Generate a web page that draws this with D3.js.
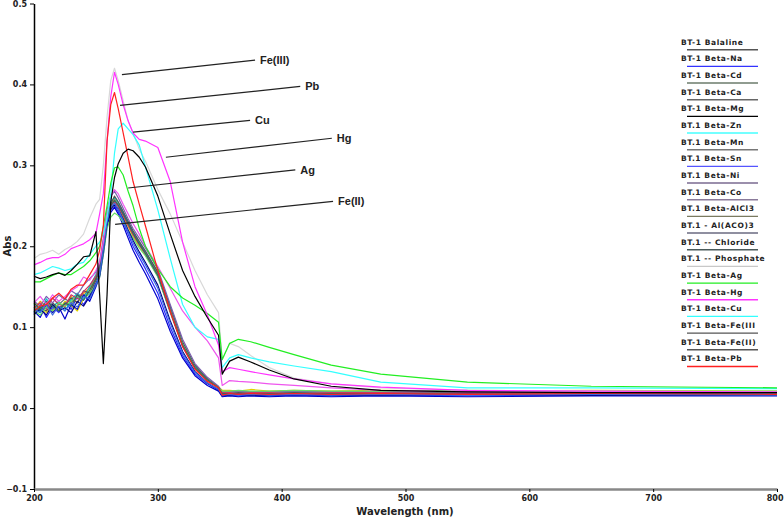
<!DOCTYPE html>
<html>
<head>
<meta charset="utf-8">
<script src="https://cdn.jsdelivr.net/npm/d3@7"></script>
<style>
  body { margin: 0; background: #fff; }
  svg { display: block; }
</style>
</head>
<body>
<svg width="784" height="519"></svg>
<script>
// Wavelength grid (nm)
const wavelengths = [200,205,210,215,220,225,230,235,240,245,250,
  253,256,259,262,265,268,272,276,280,285,290,
  300,310,320,330,340,349,
  352,358,365,375,390,410,440,480,550,650,800];

const seriesNames = ["BT-1 Balaline","BT-1 Beta-Na","BT-1 Beta-Cd","BT-1 Beta-Ca","BT-1 Beta-Mg",
  "BT.1 Beta-Zn","BT.1 Beta-Mn","BT.1 Beta-Sn","BT.1 Beta-Ni","BT.1 Beta-Co",
  "BT.1 Beta-AlCl3","BT.1 - Al(ACO)3","BT.1 -- Chloride","BT.1 -- Phosphate","BT-1 Beta-Ag",
  "BT-1 Beta-Hg","BT-1 Beta-Cu","BT-1 Beta-Fe(III","BT-1 Beta-Fe(II)","BT-1 Beta-Pb"];

// colour of each curve in the plot
const lineColors = ["#6e6e6e","#2a2aff","#e0d000","#ff9a00","#000000",
  "#00c8c8","#555555","#0000cc","#7a5fb0","#cc3366",
  "#66dd66","#000080","#336666","#ee55ee","#22ee22",
  "#ff33ff","#33ffff","#d8d8d8","#3a6ae0","#ff2020"];

// colour of the small key line under each legend entry
const keyColors = ["#555555","#3333ff","#6b7b6b","#666666","#000000",
  "#44ffff","#777777","#5555ff","#7a6a90","#8a7a9a",
  "#7a7a60","#6a6a80","#4a5a5a","#c8c8c8","#22ee22",
  "#ff33ff","#33ffff","#555555","#555555","#ff2020"];

// Abs values, one array per sample
const absBalaline = [0.125,0.12,0.13,0.122,0.128,0.135,0.13,0.14,0.138,0.15,0.16,
  0.172,0.2,0.232,0.25,0.256,0.25,0.238,0.226,0.215,0.202,0.19,
  0.163,0.118,0.076,0.049,0.034,0.025,
  0.017,0.018,0.018,0.017,0.018,0.017,0.018,0.017,0.018,0.017,0.018];
const absNa = [0.118,0.128,0.112,0.125,0.118,0.13,0.122,0.138,0.128,0.14,0.155,
  0.165,0.195,0.228,0.245,0.25,0.243,0.23,0.215,0.2,0.186,0.172,
  0.142,0.1,0.065,0.042,0.03,0.022,
  0.015,0.016,0.015,0.016,0.015,0.016,0.015,0.016,0.015,0.016,0.016];
const absCd = [0.13,0.124,0.118,0.128,0.122,0.132,0.127,0.12,0.135,0.145,0.158,
  0.17,0.198,0.23,0.246,0.252,0.247,0.236,0.224,0.212,0.2,0.19,
  0.165,0.122,0.08,0.051,0.036,0.026,
  0.022,0.022,0.021,0.023,0.021,0.022,0.021,0.022,0.021,0.022,0.021];
const absCa = [0.122,0.132,0.126,0.118,0.13,0.125,0.138,0.13,0.142,0.148,0.162,
  0.174,0.202,0.236,0.252,0.258,0.252,0.24,0.228,0.216,0.204,0.192,
  0.166,0.12,0.078,0.05,0.035,0.025,
  0.02,0.021,0.02,0.019,0.02,0.021,0.02,0.019,0.02,0.019,0.02];
const absMg = [0.163,0.16,0.162,0.165,0.167,0.164,0.17,0.178,0.187,0.188,0.218,
  0.14,0.055,0.14,0.255,0.285,0.302,0.315,0.32,0.318,0.31,0.298,
  0.262,0.215,0.17,0.138,0.112,0.09,
  0.042,0.058,0.063,0.057,0.047,0.036,0.027,0.022,0.02,0.019,0.019];
const absZn = [0.128,0.118,0.135,0.125,0.132,0.12,0.134,0.142,0.135,0.15,0.165,
  0.176,0.205,0.238,0.255,0.26,0.254,0.242,0.23,0.218,0.205,0.193,
  0.168,0.124,0.08,0.052,0.036,0.026,
  0.019,0.02,0.019,0.02,0.02,0.019,0.02,0.019,0.019,0.02,0.02];
const absMn = [0.115,0.125,0.12,0.13,0.124,0.128,0.136,0.13,0.145,0.142,0.158,
  0.17,0.2,0.234,0.252,0.262,0.255,0.243,0.231,0.219,0.206,0.194,
  0.168,0.126,0.082,0.053,0.036,0.026,
  0.018,0.018,0.019,0.018,0.018,0.019,0.018,0.018,0.019,0.018,0.018];
const absSn = [0.12,0.112,0.128,0.118,0.125,0.11,0.128,0.122,0.14,0.132,0.15,
  0.162,0.19,0.225,0.242,0.248,0.24,0.226,0.21,0.195,0.18,0.166,
  0.135,0.095,0.062,0.04,0.028,0.021,
  0.014,0.015,0.014,0.015,0.014,0.015,0.014,0.015,0.014,0.015,0.015];
const absNi = [0.132,0.126,0.138,0.13,0.14,0.134,0.145,0.14,0.152,0.16,0.168,
  0.18,0.21,0.245,0.262,0.268,0.26,0.247,0.234,0.222,0.21,0.198,
  0.172,0.128,0.085,0.055,0.038,0.027,
  0.02,0.02,0.021,0.02,0.02,0.021,0.02,0.02,0.021,0.02,0.02];
const absCo = [0.124,0.13,0.122,0.136,0.128,0.126,0.14,0.135,0.144,0.152,0.163,
  0.175,0.203,0.235,0.25,0.255,0.249,0.238,0.226,0.214,0.202,0.19,
  0.164,0.12,0.078,0.05,0.035,0.025,
  0.019,0.019,0.018,0.019,0.019,0.018,0.019,0.019,0.018,0.019,0.019];
const absAlCl3 = [0.12,0.115,0.125,0.12,0.13,0.126,0.132,0.138,0.134,0.142,0.152,
  0.162,0.19,0.222,0.236,0.241,0.238,0.23,0.22,0.21,0.198,0.188,
  0.162,0.12,0.079,0.05,0.035,0.025,
  0.021,0.021,0.022,0.021,0.021,0.022,0.021,0.021,0.022,0.021,0.021];
const absAlACO3 = [0.116,0.122,0.115,0.128,0.12,0.124,0.118,0.132,0.126,0.138,0.152,
  0.164,0.194,0.228,0.246,0.252,0.246,0.234,0.22,0.207,0.193,0.18,
  0.152,0.108,0.07,0.045,0.031,0.023,
  0.016,0.016,0.017,0.016,0.016,0.017,0.016,0.016,0.017,0.016,0.016];
const absChloride = [0.13,0.122,0.132,0.126,0.12,0.13,0.126,0.14,0.133,0.146,0.16,
  0.172,0.2,0.233,0.25,0.257,0.251,0.24,0.228,0.216,0.203,0.191,
  0.164,0.12,0.078,0.05,0.035,0.025,
  0.018,0.018,0.017,0.018,0.018,0.017,0.018,0.018,0.017,0.018,0.018];
const absPhosphate = [0.13,0.138,0.128,0.14,0.132,0.138,0.145,0.15,0.162,0.158,0.17,
  0.18,0.205,0.242,0.262,0.27,0.265,0.252,0.24,0.228,0.215,0.2,
  0.175,0.148,0.12,0.1,0.083,0.062,
  0.028,0.034,0.033,0.032,0.03,0.028,0.025,0.022,0.02,0.02,0.019];
const absAg = [0.156,0.156,0.16,0.164,0.167,0.165,0.165,0.17,0.175,0.182,0.192,
  0.2,0.225,0.25,0.278,0.297,0.298,0.288,0.268,0.25,0.222,0.2,
  0.172,0.15,0.136,0.127,0.117,0.106,
  0.06,0.08,0.085,0.082,0.075,0.066,0.053,0.042,0.032,0.027,0.025];
const absHg = [0.177,0.18,0.184,0.186,0.186,0.19,0.197,0.2,0.203,0.208,0.216,
  0.24,0.265,0.33,0.385,0.415,0.4,0.375,0.355,0.34,0.332,0.33,
  0.322,0.28,0.205,0.15,0.115,0.078,
  0.045,0.05,0.048,0.045,0.041,0.036,0.03,0.026,0.022,0.021,0.02];
const absCu = [0.165,0.167,0.171,0.175,0.173,0.17,0.172,0.178,0.18,0.19,0.2,
  0.205,0.215,0.235,0.265,0.315,0.345,0.352,0.345,0.338,0.325,0.298,
  0.245,0.185,0.128,0.1,0.088,0.085,
  0.05,0.062,0.066,0.062,0.057,0.052,0.045,0.032,0.025,0.025,0.024];
const absFe3 = [0.185,0.19,0.192,0.195,0.19,0.196,0.2,0.206,0.215,0.235,0.252,
  0.258,0.3,0.36,0.405,0.42,0.405,0.38,0.355,0.34,0.32,0.305,
  0.27,0.24,0.205,0.17,0.14,0.118,
  0.06,0.08,0.076,0.065,0.05,0.037,0.03,0.025,0.022,0.021,0.02];
const absFe2 = [0.122,0.118,0.128,0.115,0.126,0.12,0.13,0.125,0.138,0.135,0.152,
  0.165,0.196,0.23,0.248,0.253,0.246,0.232,0.218,0.204,0.19,0.177,
  0.148,0.105,0.068,0.044,0.031,0.023,
  0.016,0.017,0.016,0.017,0.016,0.017,0.016,0.017,0.016,0.017,0.016];
const absPb = [0.12,0.126,0.128,0.136,0.142,0.135,0.147,0.152,0.152,0.165,0.178,
  0.195,0.225,0.33,0.375,0.39,0.37,0.34,0.31,0.28,0.252,0.225,
  0.17,0.12,0.076,0.048,0.033,0.025,
  0.016,0.018,0.017,0.018,0.017,0.018,0.017,0.018,0.017,0.018,0.017];

const seriesValues = [absBalaline, absNa, absCd, absCa, absMg, absZn, absMn, absSn, absNi, absCo,
  absAlCl3, absAlACO3, absChloride, absPhosphate, absAg, absHg, absCu, absFe3, absFe2, absPb];

// Peak labels: text, point on the curve [nm, Abs], end of the leader line [nm, Abs]
const annotLabels = ["Fe(III)", "Pb", "Cu", "Hg", "Ag", "Fe(II)"];
const annotFrom = [[271, 0.412], [269.5, 0.374], [280, 0.341], [306.5, 0.31], [276, 0.272], [265.5, 0.227]];
const annotTo = [[378.5, 0.43], [415, 0.3975], [374.5, 0.3555], [440.5, 0.3335], [411, 0.2945], [441.5, 0.2555]];

const xTicks = [200, 300, 400, 500, 600, 700, 800];
const yTicks = [-0.1, 0.0, 0.1, 0.2, 0.3, 0.4, 0.5];

const svg = d3.select("svg");

const x = d3.scaleLinear().domain([200, 800]).range([34, 777]);
const y = d3.scaleLinear().domain([-0.1, 0.5]).range([489, 3.5]);

const series = seriesNames.map((name, i) => ({
  name: name,
  color: lineColors[i],
  key: keyColors[i],
  values: wavelengths.map((w, j) => ({ w: w, a: seriesValues[i][j] }))
}));

// draw the bundle first, the distinct curves on top
const drawOrder = [0,1,2,3,5,6,7,8,9,10,11,12,18,13,17,16,14,15,19,4];

const line = d3.line()
  .defined(d => d.a != null)
  .x(d => x(d.w))
  .y(d => y(d.a));

svg.append("g")
  .selectAll("path")
  .data(drawOrder.map(i => series[i]))
  .enter()
  .append("path")
  .attr("d", d => line(d.values))
  .attr("fill", "none")
  .attr("stroke", d => d.color)
  .attr("stroke-width", 1.2)
  .attr("stroke-linejoin", "round");

// Axes
const yAxis = svg.append("g")
  .attr("transform", "translate(34,0)")
  .call(d3.axisLeft(y).tickValues(yTicks).tickFormat(d3.format(".1f")).tickSize(4).tickSizeOuter(0));
yAxis.select(".domain").attr("stroke", "#000").attr("stroke-width", 1.5);
yAxis.selectAll("text")
  .attr("font-family", "DejaVu Sans, sans-serif")
  .attr("font-weight", "bold")
  .attr("font-size", 8)
  .attr("fill", "#222");

const xAxis = svg.append("g")
  .attr("transform", "translate(0,489)")
  .call(d3.axisBottom(x).tickValues(xTicks).tickFormat(d3.format("d")).tickSize(3).tickSizeOuter(0));
xAxis.select(".domain").attr("stroke", "#888").attr("stroke-width", 2.5);
xAxis.selectAll("text")
  .attr("font-family", "DejaVu Sans, sans-serif")
  .attr("font-weight", "bold")
  .attr("font-size", 8)
  .attr("fill", "#222")
  .attr("dy", "0.8em")
  .attr("text-anchor", d => d === 800 ? "end" : "middle")
  .attr("dx", d => d === 800 ? 6 : 0);

svg.append("text")
  .attr("x", 405)
  .attr("y", 515)
  .attr("text-anchor", "middle")
  .attr("font-family", "DejaVu Sans, sans-serif")
  .attr("font-weight", "bold")
  .attr("font-size", 10)
  .attr("fill", "#222")
  .text("Wavelength (nm)");

svg.append("text")
  .attr("transform", "translate(11,246) rotate(-90)")
  .attr("text-anchor", "middle")
  .attr("font-family", "DejaVu Sans, sans-serif")
  .attr("font-weight", "bold")
  .attr("font-size", 10)
  .attr("fill", "#222")
  .text("Abs");

// Peak annotations
const annot = svg.append("g");
annotLabels.forEach((label, i) => {
  annot.append("line")
    .attr("x1", x(annotFrom[i][0])).attr("y1", y(annotFrom[i][1]))
    .attr("x2", x(annotTo[i][0])).attr("y2", y(annotTo[i][1]))
    .attr("stroke", "#222")
    .attr("stroke-width", 1.2);
  annot.append("text")
    .attr("x", x(annotTo[i][0]) + 5)
    .attr("y", y(annotTo[i][1]))
    .attr("dy", "0.35em")
    .attr("font-family", "Liberation Sans, Arial, sans-serif")
    .attr("font-weight", "bold")
    .attr("font-size", 11)
    .attr("fill", "#222")
    .text(label);
});

// Legend
const legend = svg.append("g").attr("transform", "translate(681,42)");
const entry = legend.selectAll("g")
  .data(series)
  .enter()
  .append("g")
  .attr("transform", (d, i) => `translate(0,${i * 16.67})`);

entry.append("text")
  .attr("x", 0)
  .attr("y", 0)
  .attr("dy", "0.35em")
  .attr("font-family", "DejaVu Sans, sans-serif")
  .attr("font-weight", "bold")
  .attr("font-size", 7.5)
  .attr("letter-spacing", 0.6)
  .attr("fill", "#222")
  .text(d => d.name);

entry.append("line")
  .attr("x1", 6)
  .attr("x2", 77)
  .attr("y1", 7.7)
  .attr("y2", 7.7)
  .attr("stroke", d => d.key)
  .attr("stroke-width", 1.4);
</script>
</body>
</html>
